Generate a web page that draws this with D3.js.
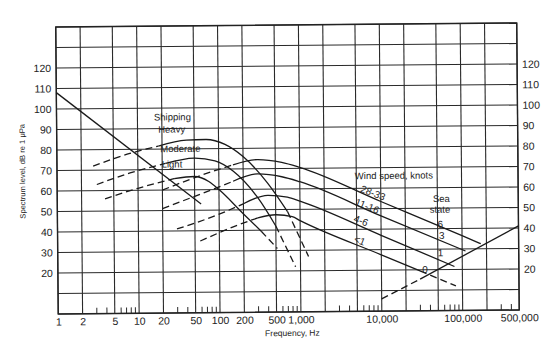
<!DOCTYPE html>
<html><head><meta charset="utf-8">
<script src="https://cdn.jsdelivr.net/npm/d3@7"></script>
<style>body{margin:0;background:#fff}svg{display:block}text{font-family:"Liberation Sans",Arial,sans-serif;fill:#222}</style>
</head><body>
<script>
// ---- data ----
const yTicks = [20,30,40,50,60,70,80,90,100,110,120];
const yGrid = [0,10,20,30,40,50,60,70,80,90,100,110,120,130,140];
const xGrid = [1,2,5,10,20,50,100,200,500,1000,2000,5000,10000,20000,50000,100000,200000,500000];
const xLabels = [[1,"1"],[2,"2"],[5,"5"],[10,"10"],[20,"20"],[50,"50"],[100,"100"],[200,"200"],[500,"500"],[1000,"1,000"],[10000,"10,000"],[100000,"100,000"],[500000,"500,000"]];
const minorTicks = [3,4,6,7,8,9,30,40,60,70,80,90,300,400,600,700,800,900,3000,4000,6000,7000,8000,9000,30000,40000,60000,70000,80000,90000,300000,400000];

const turbulence = [[1,108],[60,53]];
const heavyRise = [[2.8,72],[8,78],[18,81.5]];
const heavy = [[18,81.5],[40,84.3],[70,84.5],[120,82],[200,76],[400,63],[700,49]];
const heavyTail = [[700,49],[1260,27]];
const moderateRise = [[3.1,63],[8,68.5],[22,73]];
const moderate = [[22,73],[50,75.5],[90,74],[150,69],[300,56],[500,42]];
const moderateTail = [[500,42],[870,22]];
const lightRise = [[3.9,56],[10,61],[28,65.5]];
const light = [[28,65.5],[50,66.5],[75,64],[100,60],[200,48],[330,39.5]];
const lightTail = [[330,39.5],[520,31]];
const w28Rise = [[20,60],[60,67],[150,72]];
const w28 = [[150,72],[300,74.5],[600,73],[1000,70.5],[10000,53.5],[100000,36.5],[170000,32.5]];
const w11Rise = [[20,51],[60,58],[150,64]];
const w11 = [[150,64],[300,67.5],[600,66],[1000,63.5],[10000,46.5],[110000,29]];
const w4Rise = [[30,41],[100,48],[200,53]];
const w4 = [[200,53],[400,57],[700,56],[1000,54],[10000,37],[80000,21.5]];
const w1Rise = [[58,35],[180,43],[300,46]];
const w1 = [[300,46],[500,47.5],[800,46.5],[1000,44.5],[10000,27.5],[30000,19.5]];
const w1Tail = [[30000,19.5],[83000,12]];
const thermalLow = [[10000,6],[30000,15.5]];
const thermal = [[30000,15.5],[500000,41]];

const labels = [
  {t:"Shipping",f:16,db:94},{t:"Heavy",f:18,db:88},{t:"Moderate",f:19,db:78.5},{t:"Light",f:19.7,db:71}
];
const windTitle = {t:"Wind speed, knots",f:4800,db:64.5};
const seaTitle = [{t:"Sea",f:44000,db:53},{t:"state",f:40000,db:47.8}];
const rotLabels = [
  {t:"28-33",f:5500,db:58.5},{t:"11-16",f:4700,db:52},{t:"4-6",f:4500,db:44},{t:"<1",f:4500,db:34}
];
const seaLabels = [{t:"6",f:50000,db:40.5},{t:"3",f:52000,db:35},{t:"1",f:50000,db:26.5},{t:"0",f:32000,db:18.5}];

// ---- layout ----
const W=550,H=341;
const x = d3.scaleLog().domain([1,500000]).range([57,518]);
const y = d3.scaleLinear().domain([0,140]).range([312,25]);
const svg = d3.select("body").append("svg").attr("width",W).attr("height",H);
const g = svg.append("g").attr("transform","rotate(-0.5,288,170)");

// grid
g.selectAll(".hg").data(yGrid).join("line").attr("x1",x(1)).attr("x2",x(500000))
  .attr("y1",d=>y(d)).attr("y2",d=>y(d)).attr("stroke","#2a2a2a").attr("stroke-width",1.1);
g.selectAll(".vg").data(xGrid).join("line").attr("y1",y(0)).attr("y2",y(140))
  .attr("x1",d=>x(d)).attr("x2",d=>x(d)).attr("stroke","#2a2a2a").attr("stroke-width",1.1);
g.selectAll(".mt").data(minorTicks).join("line").attr("y1",y(0)).attr("y2",y(0)-6)
  .attr("x1",d=>x(d)).attr("x2",d=>x(d)).attr("stroke","#2a2a2a").attr("stroke-width",1);
g.append("rect").attr("x",x(1)).attr("y",y(140)).attr("width",x(500000)-x(1)).attr("height",y(0)-y(140))
  .attr("fill","none").attr("stroke","#222").attr("stroke-width",1.4);

// axis labels via d3 axes
const yl = g.append("g").attr("transform",`translate(${x(1)-2},0)`)
  .call(d3.axisLeft(y).tickValues(yTicks).tickSize(0).tickPadding(3));
const yr = g.append("g").attr("transform",`translate(${x(500000)+2},0)`)
  .call(d3.axisRight(y).tickValues(yTicks).tickSize(0).tickPadding(3));
const xa = g.append("g").attr("transform",`translate(0,${y(0)})`)
  .call(d3.axisBottom(x).tickValues(xLabels.map(d=>d[0])).tickFormat((d,i)=>xLabels[i][1]).tickSize(0).tickPadding(4));
[yl,yr,xa].forEach(a=>{a.select(".domain").remove();a.selectAll("text").attr("font-size",10.5).attr("fill","#222").style("font-family","Liberation Sans, Arial, sans-serif");});

// curves
const line = d3.line().x(d=>x(d[0])).y(d=>y(d[1])).curve(d3.curveMonotoneX);
function draw(data,dash){
  g.append("path").datum(data).attr("d",line).attr("fill","none").attr("stroke","#1a1a1a")
   .attr("stroke-width",1.3).attr("stroke-dasharray",dash?"7,4":null);
}
draw(turbulence,false);
draw(heavyRise,true);draw(heavy,false);draw(heavyTail,true);
draw(moderateRise,true);draw(moderate,false);draw(moderateTail,true);
draw(lightRise,true);draw(light,false);draw(lightTail,true);
draw(w28Rise,true);draw(w28,false);
draw(w11Rise,true);draw(w11,false);
draw(w4Rise,true);draw(w4,false);
draw(w1Rise,true);draw(w1,false);draw(w1Tail,true);
draw(thermalLow,true);draw(thermal,false);

// text labels
labels.forEach(l=>g.append("text").attr("x",x(l.f)).attr("y",y(l.db)).attr("font-size",9.5).text(l.t));
g.append("text").attr("x",x(windTitle.f)).attr("y",y(windTitle.db)).attr("font-size",9.5).text(windTitle.t);
seaTitle.forEach(l=>g.append("text").attr("x",x(l.f)).attr("y",y(l.db)).attr("font-size",9.5).text(l.t));
rotLabels.forEach(l=>g.append("text").attr("transform",`translate(${x(l.f)},${y(l.db)}) rotate(22)`).attr("font-size",10).text(l.t));
seaLabels.forEach(l=>g.append("text").attr("x",x(l.f)).attr("y",y(l.db)).attr("font-size",10).text(l.t));

g.append("text").attr("x",291).attr("y",336).attr("text-anchor","middle").attr("font-size",8.5).text("Frequency, Hz");
g.append("text").attr("transform","translate(25,169) rotate(-90)").attr("text-anchor","middle").attr("font-size",7.6).text("Spectrum level, dB re 1 μPa");
</script>
</body></html>
